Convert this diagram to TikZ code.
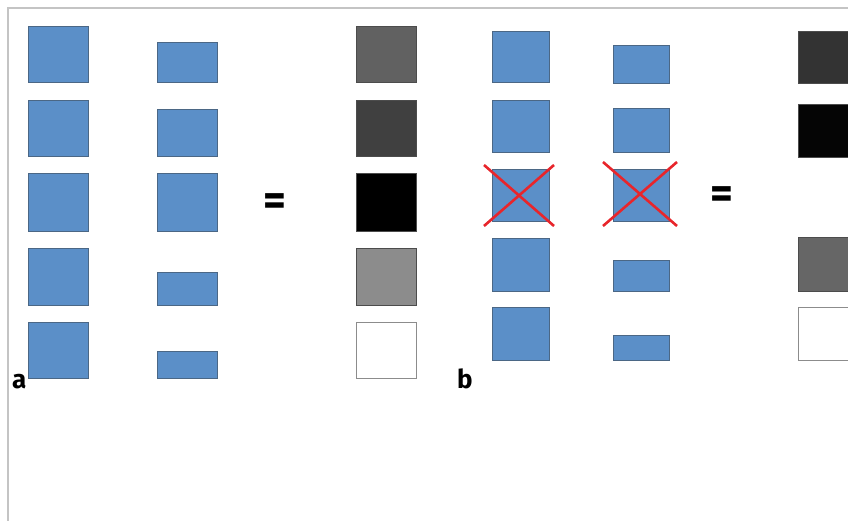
\documentclass[tikz,border=0pt]{standalone}
\usepackage{fontspec}
\setmainfont{Fira Sans}
\usetikzlibrary{calc}
\definecolor{boxblue}{HTML}{5B8FC8}
\definecolor{boxedge}{HTML}{4B6785}
\definecolor{frame}{HTML}{C4C4C4}
\definecolor{crossred}{HTML}{E8252B}
\tikzset{
  blk/.style={draw=#1, line width=1pt, inner sep=0pt, outer sep=0pt, anchor=north west},
  bluebox/.style={blk=boxedge, fill=boxblue},
  graybox/.style={blk=black!70, fill=#1},
  whitebox/.style={blk=black!45, fill=white},
  lbl/.style={font=\fontsize{26}{26}\selectfont\bfseries, inner sep=0pt, anchor=base west},
  eq/.style={font=\fontsize{44}{44}\selectfont\bfseries, inner sep=0pt},
  cross/.style={draw=crossred, line width=2.6pt}
}
\begin{document}
\begin{tikzpicture}[x=1pt,y=-1pt]
\useasboundingbox (0,0) rectangle (848,521);
\clip (0,0) rectangle (848,521);
\fill[white] (0,0) rectangle (848,521);
% frame lines
\draw[frame, line width=1.2pt] (8,521) -- (8,8) -- (848,8);
% panel a, column 1
\node[bluebox, minimum width=60pt, minimum height=56pt] (a11) at (28,27) {};
\node[bluebox, minimum width=60pt, minimum height=56pt] (a12) at (28,101) {};
\node[bluebox, minimum width=60pt, minimum height=58pt] (a13) at (28,174) {};
\node[bluebox, minimum width=60pt, minimum height=56pt] (a14) at (28,249) {};
\node[bluebox, minimum width=60pt, minimum height=56pt] (a15) at (28,322) {};
% panel a, column 2
\node[bluebox, minimum width=60pt, minimum height=40pt] (a21) at (157,43) {};
\node[bluebox, minimum width=60pt, minimum height=47pt] (a22) at (157,110) {};
\node[bluebox, minimum width=60pt, minimum height=58pt] (a23) at (157,174) {};
\node[bluebox, minimum width=60pt, minimum height=33pt] (a24) at (157,272) {};
\node[bluebox, minimum width=60pt, minimum height=27pt] (a25) at (157,351) {};
\node[eq] (eqa) at (275,205) {=};
% gray column a
\node[graybox=black!62, minimum width=60pt, minimum height=56pt] (g1) at (356,27) {};
\node[graybox=black!75, minimum width=60pt, minimum height=56pt] (g2) at (356,101) {};
\node[graybox=black, minimum width=60pt, minimum height=58pt] (g3) at (356,174) {};
\node[graybox=black!45, minimum width=60pt, minimum height=56pt] (g4) at (356,249) {};
\node[whitebox, minimum width=60pt, minimum height=56pt] (g5) at (356,322) {};
\node[lbl] (la) at (12,388) {a};
% panel b, column 1
\node[bluebox, minimum width=57pt, minimum height=51pt] (b11) at (492,32) {};
\node[bluebox, minimum width=57pt, minimum height=52pt] (b12) at (492,101) {};
\node[bluebox, minimum width=57pt, minimum height=52pt] (b13) at (492,170) {};
\node[bluebox, minimum width=57pt, minimum height=52pt] (b14) at (492,239) {};
\node[bluebox, minimum width=57pt, minimum height=53pt] (b15) at (492,307) {};
% panel b, column 2
\node[bluebox, minimum width=56pt, minimum height=38pt] (b21) at (613,46) {};
\node[bluebox, minimum width=56pt, minimum height=44pt] (b22) at (613,109) {};
\node[bluebox, minimum width=56pt, minimum height=52pt] (b23) at (613,170) {};
\node[bluebox, minimum width=56pt, minimum height=30pt] (b24) at (613,261) {};
\node[bluebox, minimum width=56pt, minimum height=25pt] (b25) at (613,335) {};
% crosses
\draw[cross] ($(b13.north west)+(-8,-5)$) -- ($(b13.south east)+(5,4)$);
\draw[cross] ($(b13.north east)+(5,-5)$) -- ($(b13.south west)+(-8,4)$);
\draw[cross] ($(b23.north west)+(-10,-8)$) -- ($(b23.south east)+(8,4)$);
\draw[cross] ($(b23.north east)+(8,-8)$) -- ($(b23.south west)+(-10,4)$);
\node[eq] (eqb) at (722,198) {=};
\node[lbl] (lb) at (457,388) {b};
% gray column b
\node[graybox=black!80, minimum width=60pt, minimum height=52pt] (h1) at (798,32) {};
\node[graybox=black!98, minimum width=60pt, minimum height=53pt] (h2) at (798,105) {};
\node[graybox=black!60, minimum width=60pt, minimum height=53pt] (h4) at (798,238) {};
\node[whitebox, minimum width=60pt, minimum height=53pt] (h5) at (798,307) {};
\end{tikzpicture}
\end{document}
